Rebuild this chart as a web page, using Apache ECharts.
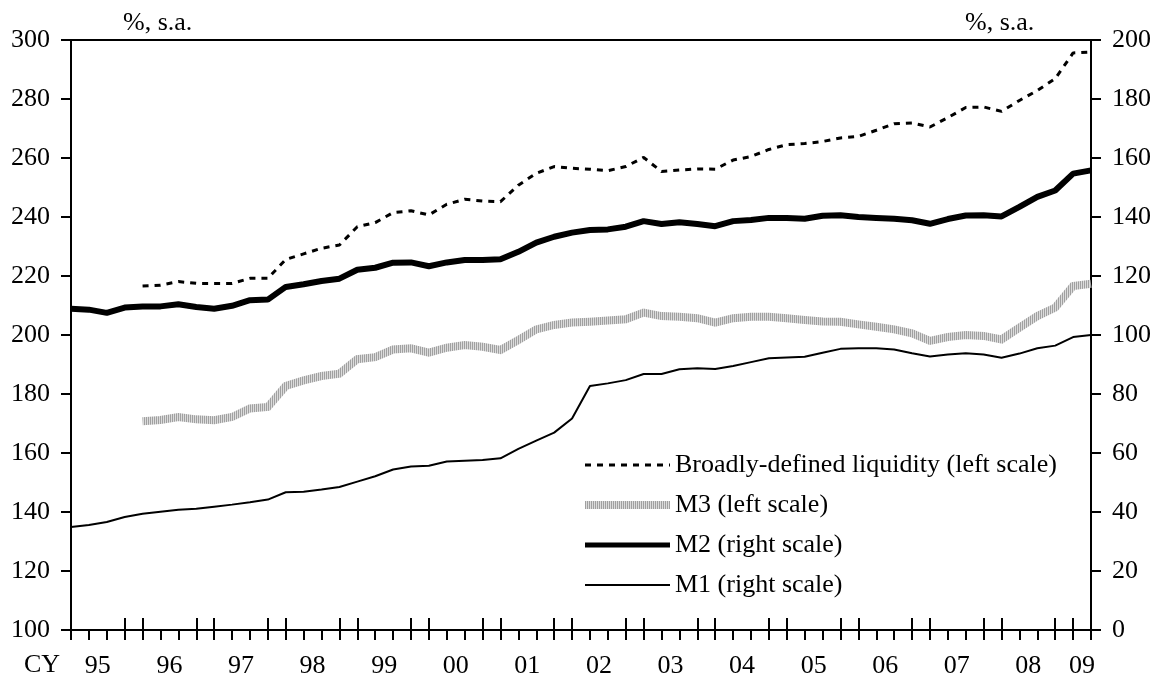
<!DOCTYPE html>
<html>
<head>
<meta charset="utf-8">
<script src="https://cdn.jsdelivr.net/npm/echarts@6/dist/echarts.min.js"></script>
<style>
html,body{margin:0;padding:0;background:#fff;}
#chart{width:1158px;height:681px;}
</style>
</head>
<body>
<div id="chart"></div>
<script>
// Year tick labels (calendar years)
const yearLabels = ['95','96','97','98','99','00','01','02','03','04','05','06','07','08','09'];
const firstYear = 1995;
const nQuarters = 58; // 1995Q1 .. 2009Q2

// Quarterly categories
const quarters = [];
for (let y = 0; y < yearLabels.length; y++) {
  for (let q = 1; q <= 4; q++) {
    if (quarters.length < nQuarters) quarters.push((firstYear + y) + 'Q' + q);
  }
}

// Broadly-defined liquidity (left scale)
const liquidity = [null,null,null,null,216.6,216.9,218.1,217.5,217.5,217.5,219.2,219.2,225.6,227.5,229.4,230.5,236.7,238.1,241.5,242.1,240.7,244.3,246.0,245.4,245.2,250.8,254.8,257.1,256.5,256.2,255.7,257.1,260.2,255.4,255.9,256.3,256.2,259.3,260.5,262.9,264.5,264.9,265.6,266.8,267.3,269.4,271.6,271.9,270.5,273.7,277.1,277.3,275.8,279.5,282.9,286.9,295.6,295.9];
// M3 (left scale)
const m3 = [null,null,null,null,170.8,171.2,172.2,171.4,171.1,172.2,175.1,175.6,182.7,184.6,186.1,186.9,191.8,192.5,195.1,195.5,194.0,195.7,196.6,196.0,194.9,198.3,201.9,203.4,204.2,204.5,204.9,205.3,207.6,206.4,206.2,205.7,204.2,205.7,206.2,206.2,205.7,205.1,204.6,204.5,203.6,202.8,201.9,200.6,198.0,199.3,200.0,199.7,198.5,202.5,206.4,209.3,216.6,217.4];
// M2 (right scale)
const m2 = [108.9,108.6,107.5,109.3,109.7,109.7,110.4,109.5,108.9,109.9,111.8,112.0,116.3,117.2,118.3,119.1,122.1,122.8,124.5,124.6,123.3,124.6,125.4,125.4,125.7,128.2,131.3,133.3,134.7,135.6,135.8,136.7,138.6,137.6,138.2,137.6,136.9,138.6,139.0,139.7,139.7,139.4,140.4,140.6,140.0,139.7,139.4,138.9,137.7,139.3,140.5,140.6,140.2,143.4,146.8,149.0,154.7,155.8];
// M1 (right scale)
const m1 = [34.9,35.6,36.6,38.3,39.4,40.1,40.8,41.1,41.8,42.5,43.3,44.2,46.7,46.9,47.6,48.5,50.3,52.1,54.4,55.4,55.7,57.1,57.4,57.6,58.2,61.4,64.2,66.9,71.7,82.7,83.6,84.7,86.8,86.8,88.4,88.7,88.5,89.5,90.8,92.1,92.4,92.6,94.0,95.3,95.5,95.5,95.1,93.8,92.7,93.4,93.8,93.4,92.3,93.7,95.5,96.4,99.3,100.0];

const seriesNames = ['Broadly-defined liquidity (left scale)','M3 (left scale)','M2 (right scale)','M1 (right scale)'];
const unitLabel = '%, s.a.';
const axisPrefix = 'CY';

// Label axis: one band between each pair of quarterly points; year label at the
// centre of the quarters belonging to that year.
const bandLabels = new Array(nQuarters - 1).fill('');
yearLabels.forEach(function (lab, y) {
  const q0 = y * 4;
  const q1 = Math.min(y * 4 + 3, nQuarters - 1);
  const k = Math.min(Math.floor((q0 + q1) / 2), nQuarters - 2);
  bandLabels[k] = lab;
});

// Hatched grey pattern for M3
const pc = document.createElement('canvas');
pc.width = 2; pc.height = 2;
const pctx = pc.getContext('2d');
pctx.fillStyle = '#dcdcdc'; pctx.fillRect(0, 0, 2, 2);
pctx.fillStyle = '#a0a0a0'; pctx.fillRect(0, 0, 1, 2);
const hatch = { image: pc, repeat: 'repeat' };

const FONT = 'Liberation Serif';
const FS = 26;
const chart = echarts.init(document.getElementById('chart'), null, { renderer: 'canvas' });

const option = {
  animation: false,
  backgroundColor: '#ffffff',
  grid: { left: 71, right: 67, top: 40, bottom: 51, show: true, borderColor: '#000', borderWidth: 2, backgroundColor: 'transparent' },
  legend: {
    orient: 'vertical',
    left: 581, top: 452, padding: 0,
    itemWidth: 85, itemHeight: 10, itemGap: 14,
    itemStyle: { opacity: 0 },
    textStyle: { fontFamily: FONT, fontSize: FS, color: '#000' },
    data: [
      { name: seriesNames[0], lineStyle: { width: 3 } },
      { name: seriesNames[1], lineStyle: { width: 8 } },
      { name: seriesNames[2], lineStyle: { width: 5 } },
      { name: seriesNames[3], lineStyle: { width: 2 } }
    ]
  },
  graphic: [
    { type: 'text', left: 24, top: 652, style: { text: axisPrefix, font: FS + 'px "' + FONT + '"', fill: '#000' } },
    { type: 'text', left: 123, top: 10, style: { text: unitLabel, font: FS + 'px "' + FONT + '"', fill: '#000' } },
    { type: 'text', left: 965, top: 10, style: { text: unitLabel, font: FS + 'px "' + FONT + '"', fill: '#000' } }
  ],
  xAxis: [
    {
      type: 'category', data: quarters, boundaryGap: false, position: 'bottom',
      axisLine: { show: true, lineStyle: { color: '#000', width: 2 } },
      axisTick: { show: true, interval: 0, inside: false, length: 10, lineStyle: { color: '#000', width: 2 } },
      axisLabel: { show: false }, splitLine: { show: false }
    },
    {
      type: 'category', data: quarters, boundaryGap: false, position: 'bottom',
      axisLine: { show: false },
      axisTick: { show: true, inside: true, length: 12, lineStyle: { color: '#000', width: 2 },
        interval: function (i) { return i % 4 === 3 || (i % 4 === 0 && i > 0); } },
      axisLabel: { show: false }, splitLine: { show: false }
    },
    {
      type: 'category', data: bandLabels, boundaryGap: true, position: 'bottom',
      axisLine: { show: false }, axisTick: { show: false },
      axisLabel: { show: true, interval: 0, margin: 23, fontFamily: FONT, fontSize: FS, color: '#000' },
      splitLine: { show: false }
    }
  ],
  yAxis: [
    {
      type: 'value', position: 'left', min: 100, max: 300, interval: 20,
      axisLine: { show: true, lineStyle: { color: '#000', width: 2 } },
      axisTick: { show: true, length: 10, lineStyle: { color: '#000', width: 2 } },
      axisLabel: { margin: 21, fontFamily: FONT, fontSize: FS, color: '#000' },
      splitLine: { show: false }
    },
    {
      type: 'value', position: 'right', min: 0, max: 200, interval: 20,
      axisLine: { show: true, lineStyle: { color: '#000', width: 2 } },
      axisTick: { show: true, length: 10, lineStyle: { color: '#000', width: 2 } },
      axisLabel: { margin: 21, fontFamily: FONT, fontSize: FS, color: '#000' },
      splitLine: { show: false }
    }
  ],
  series: [
    { name: seriesNames[0], type: 'line', data: liquidity, xAxisIndex: 0, yAxisIndex: 0, symbol: 'none',
      lineStyle: { color: '#000', width: 3, type: [6, 6] }, itemStyle: { color: '#000' } },
    { name: seriesNames[1], type: 'line', data: m3, xAxisIndex: 0, yAxisIndex: 0, symbol: 'none',
      lineStyle: { color: hatch, width: 8, cap: 'butt', join: 'miter' }, itemStyle: { color: hatch } },
    { name: seriesNames[2], type: 'line', data: m2, xAxisIndex: 0, yAxisIndex: 1, symbol: 'none',
      lineStyle: { color: '#000', width: 6 }, itemStyle: { color: '#000' } },
    { name: seriesNames[3], type: 'line', data: m1, xAxisIndex: 0, yAxisIndex: 1, symbol: 'none',
      lineStyle: { color: '#000', width: 2 }, itemStyle: { color: '#000' } }
  ]
};
chart.setOption(option);
</script>
</body>
</html>
